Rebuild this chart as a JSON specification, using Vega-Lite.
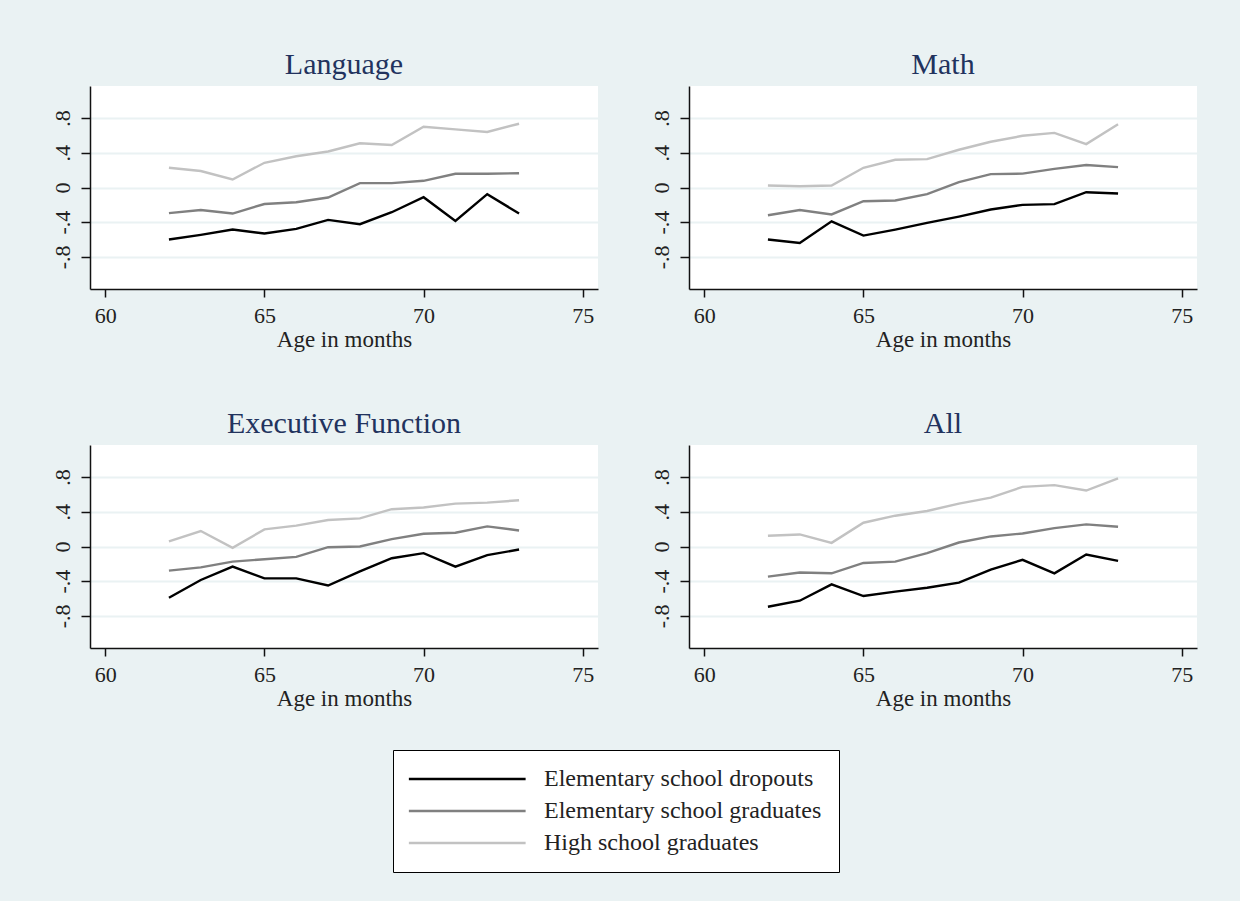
{
  "$schema": "https://vega.github.io/schema/vega-lite/v6.json",
  "background": "#EAF2F3",
  "padding": {"left": 50, "top": 50, "right": 43, "bottom": 30},
  "data": {"values": [
    {"panel":"Language","age":62,"d":-0.60,"g":-0.296,"h":0.227},
    {"panel":"Language","age":63,"d":-0.546,"g":-0.26,"h":0.19},
    {"panel":"Language","age":64,"d":-0.485,"g":-0.30,"h":0.092},
    {"panel":"Language","age":65,"d":-0.53,"g":-0.19,"h":0.285},
    {"panel":"Language","age":66,"d":-0.477,"g":-0.17,"h":0.36},
    {"panel":"Language","age":67,"d":-0.373,"g":-0.115,"h":0.415},
    {"panel":"Language","age":68,"d":-0.423,"g":0.05,"h":0.51},
    {"panel":"Language","age":69,"d":-0.285,"g":0.05,"h":0.49},
    {"panel":"Language","age":70,"d":-0.112,"g":0.077,"h":0.70},
    {"panel":"Language","age":71,"d":-0.385,"g":0.158,"h":0.67},
    {"panel":"Language","age":72,"d":-0.077,"g":0.158,"h":0.64},
    {"panel":"Language","age":73,"d":-0.30,"g":0.165,"h":0.735},
    {"panel":"Math","age":62,"d":-0.60,"g":-0.32,"h":0.023},
    {"panel":"Math","age":63,"d":-0.64,"g":-0.26,"h":0.015},
    {"panel":"Math","age":64,"d":-0.39,"g":-0.31,"h":0.023},
    {"panel":"Math","age":65,"d":-0.554,"g":-0.158,"h":0.227},
    {"panel":"Math","age":66,"d":-0.485,"g":-0.15,"h":0.32},
    {"panel":"Math","age":67,"d":-0.408,"g":-0.077,"h":0.327},
    {"panel":"Math","age":68,"d":-0.335,"g":0.062,"h":0.435},
    {"panel":"Math","age":69,"d":-0.254,"g":0.154,"h":0.527},
    {"panel":"Math","age":70,"d":-0.20,"g":0.16,"h":0.596},
    {"panel":"Math","age":71,"d":-0.192,"g":0.215,"h":0.63},
    {"panel":"Math","age":72,"d":-0.054,"g":0.26,"h":0.50},
    {"panel":"Math","age":73,"d":-0.07,"g":0.235,"h":0.73},
    {"panel":"Executive Function","age":62,"d":-0.59,"g":-0.278,"h":0.058},
    {"panel":"Executive Function","age":63,"d":-0.386,"g":-0.24,"h":0.178},
    {"panel":"Executive Function","age":64,"d":-0.232,"g":-0.174,"h":-0.015},
    {"panel":"Executive Function","age":65,"d":-0.367,"g":-0.147,"h":0.197},
    {"panel":"Executive Function","age":66,"d":-0.367,"g":-0.12,"h":0.24},
    {"panel":"Executive Function","age":67,"d":-0.45,"g":-0.008,"h":0.305},
    {"panel":"Executive Function","age":68,"d":-0.286,"g":0.0,"h":0.324},
    {"panel":"Executive Function","age":69,"d":-0.135,"g":0.085,"h":0.43},
    {"panel":"Executive Function","age":70,"d":-0.077,"g":0.147,"h":0.45},
    {"panel":"Executive Function","age":71,"d":-0.232,"g":0.158,"h":0.494},
    {"panel":"Executive Function","age":72,"d":-0.10,"g":0.232,"h":0.506},
    {"panel":"Executive Function","age":73,"d":-0.035,"g":0.185,"h":0.533},
    {"panel":"All","age":62,"d":-0.695,"g":-0.347,"h":0.124},
    {"panel":"All","age":63,"d":-0.625,"g":-0.30,"h":0.139},
    {"panel":"All","age":64,"d":-0.436,"g":-0.309,"h":0.042},
    {"panel":"All","age":65,"d":-0.571,"g":-0.19,"h":0.274},
    {"panel":"All","age":66,"d":-0.52,"g":-0.174,"h":0.355},
    {"panel":"All","age":67,"d":-0.475,"g":-0.077,"h":0.409},
    {"panel":"All","age":68,"d":-0.417,"g":0.046,"h":0.494},
    {"panel":"All","age":69,"d":-0.266,"g":0.116,"h":0.564},
    {"panel":"All","age":70,"d":-0.154,"g":0.15,"h":0.687},
    {"panel":"All","age":71,"d":-0.309,"g":0.212,"h":0.707},
    {"panel":"All","age":72,"d":-0.093,"g":0.255,"h":0.645},
    {"panel":"All","age":73,"d":-0.166,"g":0.228,"h":0.784}
  ]},
  "transform": [{"fold": ["d", "g", "h"], "as": ["group", "score"]}],
  "columns": 2,
  "spacing": {"column": 51, "row": 58},
  "facet": {
    "field": "panel", "type": "nominal",
    "sort": ["Language", "Math", "Executive Function", "All"],
    "header": {"title": null, "labelFont": "Liberation Serif", "labelFontSize": 30, "labelColor": "#22335e", "labelPadding": 6}
  },
  "spec": {
    "width": 508,
    "height": 203,
    "mark": {"type": "line", "strokeWidth": 2.4},
    "encoding": {
      "x": {"field": "age", "type": "quantitative",
        "scale": {"domain": [59.52, 75.48], "nice": false, "zero": false},
        "axis": {"values": [60, 65, 70, 75], "title": "Age in months", "grid": false}},
      "y": {"field": "score", "type": "quantitative",
        "scale": {"domain": [-1.17, 1.17], "nice": false, "zero": false},
        "axis": {"values": [-0.8, -0.4, 0, 0.4, 0.8], "title": null, "grid": true,
          "labelAngle": -90, "labelAlign": "center", "labelBaseline": "bottom", "labelPadding": 7, "tickSize": 9,
          "labelExpr": "datum.value == 0 ? '0' : replace(replace(format(datum.value, '.1f'), '0.', '.'), '\u2212', '-')"}},
      "color": {"field": "group", "type": "nominal",
        "scale": {"domain": ["d", "g", "h"], "range": ["#000000", "#808080", "#c2c2c2"]},
        "legend": {"title": null, "orient": "none", "legendX": 303, "legendY": 664,
          "symbolType": "M-1.8,0H14.2", "symbolSize": 213, "symbolStrokeWidth": 2.6,
          "labelFont": "Liberation Serif", "labelFontSize": 24, "labelColor": "#222222", "labelOffset": 110, "labelLimit": 0,
          "padding": 17, "rowPadding": 8, "strokeColor": "#000000", "fillColor": "#ffffff",
          "labelExpr": "datum.label == 'd' ? 'Elementary school dropouts' : datum.label == 'g' ? 'Elementary school graduates' : 'High school graduates'"}}
    }
  },
  "resolve": {"axis": {"x": "independent", "y": "independent"}},
  "config": {
    "view": {"fill": "#ffffff", "stroke": null},
    "axis": {
      "labelFont": "Liberation Serif", "labelFontSize": 22, "labelColor": "#222222",
      "titleFont": "Liberation Serif", "titleFontSize": 23, "titleColor": "#222222", "titleFontWeight": "normal",
      "domainColor": "#111111", "domainWidth": 1.5, "tickColor": "#111111", "tickWidth": 1.5,
      "gridColor": "#EAF2F3", "gridWidth": 2
    },
    "axisX": {"tickSize": 8, "labelPadding": 8, "titlePadding": 2}
  }
}
